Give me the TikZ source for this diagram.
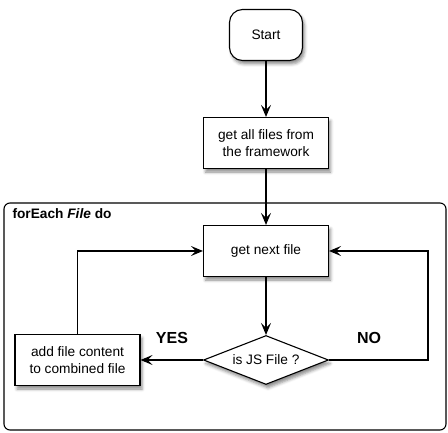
\documentclass[tikz,border=0pt]{standalone}
\usepackage{fontspec}
\setmainfont{Liberation Sans}
\usetikzlibrary{arrows.meta, shapes, shadows.blur}

\begin{document}
\begin{tikzpicture}[x=1pt, y=1pt, font=\fontsize{13.7}{17}\selectfont]
\tikzstyle{shade}=[blur shadow={shadow xshift=2pt, shadow yshift=-3.5pt, shadow blur radius=3pt, shadow opacity=45}]
\tikzstyle{box}=[draw, fill=white, align=center, line width=1.1pt, minimum width=125pt, minimum height=51pt, shade]
\tikzstyle{answer}=[font=\fontsize{16}{18}\bfseries\selectfont]
\tikzstyle{arr}=[line width=1.1pt, -{Stealth[length=12pt, width=10pt, inset=5pt]}]
\useasboundingbox (0,0) rectangle (448,-433);
% loop frame
\draw [line width=1.1pt, rounded corners=6pt] (4,-203) rectangle (446,-430);
\node [anchor=west] (loop) at (9,-214) {\textbf{forEach \textit{File} do}};
% steps
\node [box, rounded corners=13pt, minimum width=73pt, minimum height=51pt] (start) at (266,-35) {Start};
\node [box] (allfiles) at (266,-143) {get all files from\\the framework};
\node [box] (next) at (266,-251) {get next file};
\node [box, diamond, aspect=2.5, inner sep=0pt, minimum width=125pt, minimum height=49pt] (isjs) at (266,-360) {is JS File ?};
\node [box] (add) at (77.5,-360) {add file content\\to combined file};
\node [answer] (yes) at (172,-338) {YES};
\node [answer] (no) at (369,-338) {NO};
\coordinate (noturn) at (428,-360);
% connectors
\draw [arr] (start) -- (allfiles);
\draw [arr] (allfiles) -- (next);
\draw [arr] (next) -- (isjs);
\draw [arr] (isjs) -- (add);
\draw [arr] (add.north) |- (next.west);
\draw [arr] (isjs.east) -- (noturn) |- (next.east);
\end{tikzpicture}
\end{document}
